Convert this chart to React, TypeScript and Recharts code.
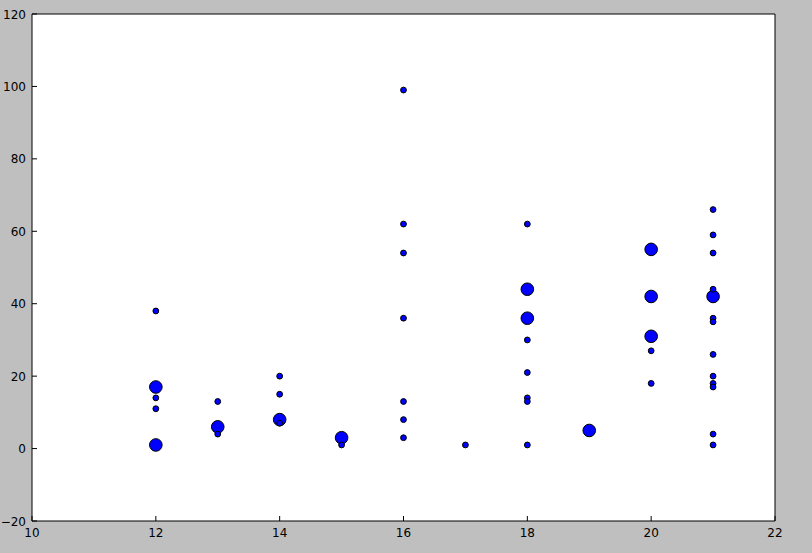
import React from 'react';
import { ScatterChart, Scatter, XAxis, YAxis, CartesianGrid } from 'recharts';

const bigX = [12, 12, 13, 14, 15, 18, 18, 19, 20, 20, 20, 21];
const bigY = [17, 1, 6, 8, 3, 44, 36, 5, 55, 42, 31, 42];

const smallX = [
  12, 12, 12,
  13, 13,
  14, 14, 14,
  15,
  16, 16, 16, 16, 16, 16, 16,
  17,
  18, 18, 18, 18, 18, 18,
  20, 20,
  21, 21, 21, 21, 21, 21, 21, 21, 21, 21, 21, 21,
];
const smallY = [
  38, 14, 11,
  13, 4,
  20, 15, 7,
  1,
  99, 62, 54, 36, 13, 8, 3,
  1,
  62, 30, 21, 14, 13, 1,
  27, 18,
  66, 59, 54, 44, 36, 35, 26, 20, 18, 17, 4, 1,
];

const xTicks = [10, 12, 14, 16, 18, 20, 22];
const yTicks = [-20, 0, 20, 40, 60, 80, 100, 120];

const bigData = bigX.map((x, i) => ({ x, y: bigY[i] }));
const smallData = smallX.map((x, i) => ({ x, y: smallY[i] }));

const fmt = (v: number) => (v < 0 ? '\u2212' + Math.abs(v) : String(v));
const FONT = 'DejaVu Sans, sans-serif';

const BottomTick = (p: any) => (
  <g>
    <line x1={p.x} y1={p.y} x2={p.x} y2={p.y - 5} stroke="#000" />
    <text x={p.x} y={p.y + 16} textAnchor="middle" fontSize={12} fontFamily={FONT} fill="#000">
      {fmt(p.payload.value)}
    </text>
  </g>
);
const TopTick = (p: any) => (
  <line x1={p.x} y1={p.y} x2={p.x} y2={p.y + 5} stroke="#000" />
);
const LeftTick = (p: any) => (
  <g>
    <line x1={p.x} y1={p.y} x2={p.x + 5} y2={p.y} stroke="#000" />
    <text x={p.x - 6} y={p.y + 4.5} textAnchor="end" fontSize={12} fontFamily={FONT} fill="#000">
      {fmt(p.payload.value)}
    </text>
  </g>
);
const RightTick = (p: any) => (
  <line x1={p.x} y1={p.y} x2={p.x - 5} y2={p.y} stroke="#000" />
);

const BigDot = (p: any) => (
  <circle cx={p.cx} cy={p.cy} r={6.3} fill="#0000ff" stroke="#000" strokeWidth={1} />
);
const SmallDot = (p: any) => (
  <circle cx={p.cx} cy={p.cy} r={2.9} fill="#0000ff" stroke="#000" strokeWidth={1} />
);

export default function App() {
  return (
    <div style={{ position: 'absolute', left: 0, top: 0, width: 812, height: 553, background: '#bfbfbf' }}>
      <ScatterChart width={812} height={553} margin={{ top: 0, right: 0, bottom: 0, left: 0 }}>
        <CartesianGrid horizontal={false} vertical={false} fill="#ffffff" />
        <XAxis
          type="number"
          dataKey="x"
          domain={[10, 22]}
          ticks={xTicks}
          height={32}
          tickSize={0}
          tickMargin={0}
          tickLine={false}
          axisLine={{ stroke: '#000' }}
          tick={BottomTick}
          interval={0}
        />
        <XAxis
          xAxisId="top"
          orientation="top"
          type="number"
          domain={[10, 22]}
          ticks={xTicks}
          height={14}
          tickSize={0}
          tickMargin={0}
          tickLine={false}
          axisLine={{ stroke: '#000' }}
          tick={TopTick}
          interval={0}
        />
        <YAxis
          type="number"
          dataKey="y"
          domain={[-20, 120]}
          ticks={yTicks}
          width={32}
          tickSize={0}
          tickMargin={0}
          tickLine={false}
          axisLine={{ stroke: '#000' }}
          tick={LeftTick}
          interval={0}
        />
        <YAxis
          yAxisId="right"
          orientation="right"
          type="number"
          domain={[-20, 120]}
          ticks={yTicks}
          width={37}
          tickSize={0}
          tickMargin={0}
          tickLine={false}
          axisLine={{ stroke: '#000' }}
          tick={RightTick}
          interval={0}
        />
        <Scatter data={bigData} shape={BigDot} isAnimationActive={false} />
        <Scatter data={smallData} shape={SmallDot} isAnimationActive={false} />
      </ScatterChart>
    </div>
  );
}
